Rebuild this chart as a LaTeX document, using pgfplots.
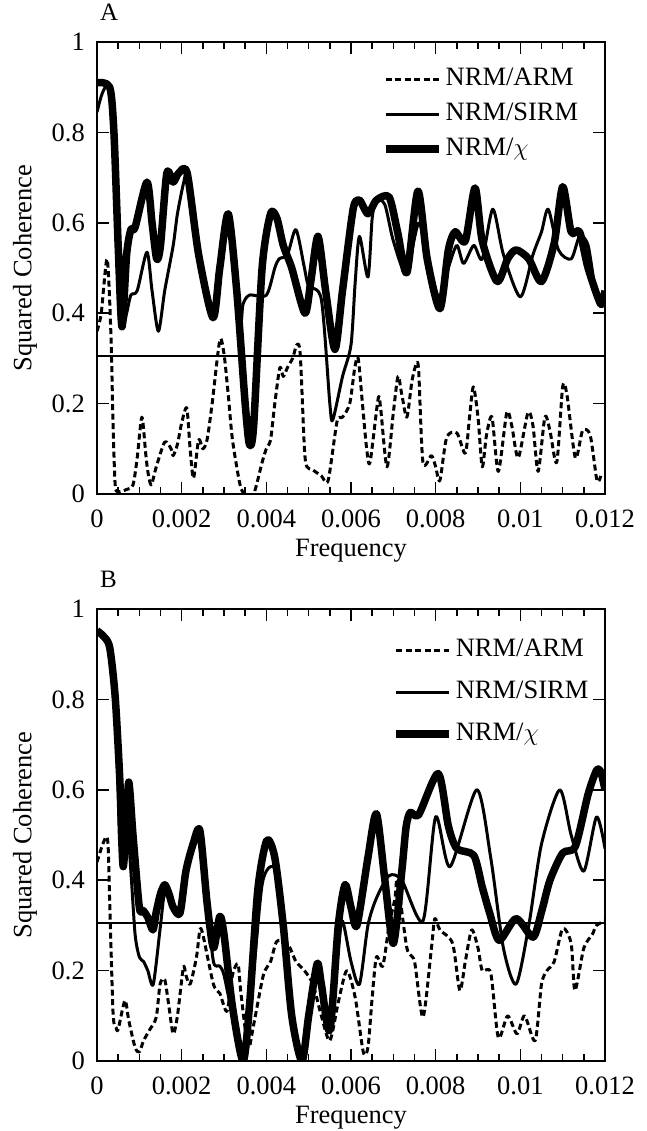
\documentclass[border=0pt]{standalone}
\usepackage{fontspec}
\setmainfont{Liberation Serif}
\usepackage{pgfplots}
\pgfplotsset{compat=1.18}
\newcommand{\bigf}{\fontsize{26.5bp}{30bp}\selectfont}
\pgfplotsset{
  coh/.style={
    scale only axis, width=508bp, height=452bp,
    xmin=0, xmax=0.012, ymin=0, ymax=1,
    scaled x ticks=false, scaled y ticks=false,
    xtick={0,0.002,0.004,0.006,0.008,0.01,0.012},
    xticklabels={0,0.002,0.004,0.006,0.008,0.01,0.012},
    minor x tick num=3,
    ytick={0,0.2,0.4,0.6,0.8,1},
    yticklabels={0,0.2,0.4,0.6,0.8,1},
    tick align=inside, major tick length=12bp, minor tick length=7bp,
    every tick/.style={black, line width=1.5bp},
    axis line style={line width=2.2bp},
    tick label style={font=\bigf, inner sep=0pt},
    xticklabel style={anchor=north, yshift=-16bp},
    yticklabel style={anchor=east, xshift=-12bp},
    label style={font=\bigf},
    xlabel={Frequency},
    ylabel={Squared Coherence},
    xlabel style={at={(axis description cs:0.5,0)}, anchor=base, yshift=-63bp, inner sep=0pt},
    ylabel style={at={(axis description cs:-0.1417,0.5)}, anchor=center, inner sep=0pt},
    title style={font=\fontsize{25bp}{28bp}\selectfont, at={(axis description cs:0,1)}, anchor=base west, xshift=3bp, yshift=16bp, inner sep=0pt},
    legend cell align=left,
    legend image code/.code={\draw[#1] (0bp,0bp) -- (53bp,0bp);},
    every axis plot/.append style={line join=round, line cap=butt},
    arm/.style={black, line width=3bp, dash pattern=on 6bp off 3.5bp, smooth, tension=0.45},
    sirm/.style={black, line width=3bp, smooth, tension=0.45},
    chi/.style={black, line width=7.5bp, smooth, tension=0.45},
    thr/.style={black, line width=2.2bp},
  }
}
\begin{document}
\begin{tikzpicture}[font=\bigf]
\path[use as bounding box] (-97bp,0bp) rectangle (550bp,1131bp);
% ---------------- Panel A ----------------
\begin{axis}[coh, at={(0bp,637bp)}, anchor=south west, title={A},
  legend style={at={(axis description cs:0.561,0.9447)}, anchor=north west, draw=none, fill=none,
    inner sep=0pt, row sep=11bp, column sep=3bp, font=\bigf,
    nodes={inner sep=0pt, text height=18bp, text depth=6bp}}]
\addplot[arm] coordinates {
(0,0.36) (0.0001,0.40) (0.00024,0.52) (0.00033,0.35) (0.00038,0.15) (0.00043,0.02)
(0.0005,0.005) (0.0007,0.01) (0.00085,0.02) (0.00095,0.08) (0.00106,0.17) (0.00115,0.09)
(0.0012,0.05) (0.00128,0.02) (0.0014,0.06) (0.0016,0.115) (0.00175,0.10) (0.0018,0.085)
(0.0019,0.11) (0.002,0.157) (0.00212,0.19) (0.0022,0.10) (0.00228,0.035) (0.0024,0.12)
(0.0025,0.10) (0.0026,0.12) (0.00272,0.20) (0.0029,0.34) (0.003,0.31) (0.0031,0.22)
(0.0032,0.12) (0.00338,0.02) (0.0035,0.0) (0.0037,0.0) (0.0039,0.07) (0.0040,0.10)
(0.0041,0.12) (0.0042,0.20) (0.00432,0.28) (0.0044,0.26) (0.0045,0.28) (0.00462,0.30)
(0.00472,0.33) (0.0048,0.31) (0.0049,0.10) (0.00496,0.06) (0.0051,0.053) (0.0053,0.04)
(0.00546,0.03) (0.00567,0.16) (0.0058,0.17) (0.00597,0.20) (0.00609,0.28) (0.00617,0.30)
(0.00627,0.20) (0.00637,0.10) (0.00645,0.07) (0.00664,0.21) (0.0067,0.19) (0.00685,0.06)
(0.007,0.18) (0.00711,0.26) (0.0072,0.22) (0.00732,0.17) (0.00744,0.25) (0.00755,0.29)
(0.0076,0.27) (0.0077,0.07) (0.0079,0.085) (0.008,0.06) (0.0081,0.03) (0.00826,0.125)
(0.0085,0.135) (0.0087,0.09) (0.0088,0.17) (0.00889,0.237) (0.009,0.17) (0.0091,0.06)
(0.0092,0.13) (0.00933,0.17) (0.00948,0.05) (0.00968,0.18) (0.0098,0.15) (0.00995,0.08)
(0.01018,0.18) (0.0103,0.15) (0.01042,0.05) (0.01058,0.17) (0.0107,0.14) (0.01086,0.07)
(0.011,0.237) (0.0111,0.22) (0.0113,0.08) (0.01147,0.14) (0.01165,0.13) (0.01181,0.03)
(0.0119,0.04)};
\addlegendentry{NRM/ARM}
\addplot[sirm] coordinates {
(0,0.845) (0.0001,0.88) (0.0002,0.90) (0.0003,0.89) (0.0004,0.78) (0.0005,0.50)
(0.0006,0.37) (0.0007,0.40) (0.0008,0.44) (0.00095,0.45) (0.00118,0.535) (0.0013,0.45)
(0.00145,0.36) (0.0016,0.45) (0.0018,0.55) (0.0019,0.62) (0.00205,0.69) (0.00213,0.70)
(0.0024,0.53) (0.00274,0.39) (0.0029,0.50) (0.0031,0.62) (0.0033,0.45) (0.0034,0.38)
(0.00345,0.42) (0.0036,0.44) (0.004,0.44) (0.0042,0.50) (0.0043,0.52) (0.0045,0.53)
(0.0047,0.585) (0.0049,0.50) (0.005,0.46) (0.0053,0.43) (0.0055,0.20) (0.00557,0.164)
(0.0058,0.26) (0.006,0.33) (0.0061,0.47) (0.0062,0.57) (0.0064,0.48) (0.0065,0.61)
(0.0066,0.65) (0.0068,0.64) (0.0070,0.56) (0.0073,0.49) (0.0076,0.60) (0.0078,0.52)
(0.0081,0.43) (0.0083,0.50) (0.0085,0.55) (0.00866,0.51) (0.0089,0.55) (0.0091,0.52)
(0.00935,0.63) (0.0096,0.53) (0.0100,0.436) (0.0103,0.53) (0.0105,0.58) (0.01066,0.63)
(0.0109,0.54) (0.0112,0.52) (0.0114,0.57) (0.0116,0.55) (0.0118,0.44) (0.012,0.43)};
\addlegendentry{NRM/SIRM}
\addplot[chi] coordinates {
(0,0.91) (0.0003,0.90) (0.0004,0.80) (0.0005,0.55) (0.00059,0.37) (0.0007,0.53)
(0.0008,0.585) (0.0009,0.59) (0.00118,0.69) (0.0013,0.60) (0.00141,0.52) (0.0015,0.55)
(0.00165,0.71) (0.0018,0.69) (0.00193,0.71) (0.00213,0.71) (0.0024,0.53) (0.00274,0.39)
(0.0029,0.50) (0.0031,0.62) (0.0033,0.45) (0.0035,0.20) (0.0036,0.11) (0.0037,0.15)
(0.0039,0.50) (0.0041,0.62) (0.00425,0.61) (0.0044,0.55) (0.0046,0.50) (0.00491,0.40)
(0.00505,0.47) (0.00522,0.57) (0.0054,0.45) (0.00562,0.32) (0.0058,0.45) (0.00605,0.63)
(0.0062,0.65) (0.0064,0.62) (0.0066,0.65) (0.0069,0.657) (0.0071,0.58) (0.00732,0.49)
(0.00758,0.67) (0.0078,0.52) (0.0081,0.41) (0.0083,0.54) (0.00846,0.58) (0.0087,0.56)
(0.00893,0.677) (0.0091,0.56) (0.00945,0.47) (0.0097,0.52) (0.0099,0.54) (0.0102,0.52)
(0.0105,0.47) (0.0108,0.555) (0.011,0.68) (0.0112,0.58) (0.0114,0.58) (0.0116,0.50)
(0.0119,0.42) (0.012,0.45)};
\addlegendentry{NRM/$\chi$}
\addplot[thr, forget plot] coordinates {(0,0.305) (0.012,0.305)};
\end{axis}
% ---------------- Panel B ----------------
\begin{axis}[coh, at={(0bp,70bp)}, anchor=south west, title={B},
  xlabel style={yshift=1bp},
  legend style={at={(axis description cs:0.581,0.936)}, anchor=north west, draw=none, fill=none,
    inner sep=0pt, row sep=18bp, column sep=3bp, font=\bigf,
    nodes={inner sep=0pt, text height=18bp, text depth=6bp}}]
\addplot[arm] coordinates {
(0,0.44) (0.00024,0.495) (0.0003,0.35) (0.00038,0.105) (0.00045,0.074) (0.0005,0.07)
(0.00066,0.134) (0.00075,0.09) (0.0009,0.03) (0.001,0.02) (0.0011,0.045) (0.00125,0.07)
(0.0014,0.097) (0.00149,0.17) (0.0016,0.18) (0.0017,0.12) (0.0018,0.06) (0.0019,0.10)
(0.00204,0.207) (0.0021,0.19) (0.0022,0.17) (0.00235,0.23) (0.00243,0.29) (0.0025,0.28)
(0.00275,0.17) (0.0029,0.15) (0.00307,0.11) (0.0032,0.19) (0.00333,0.215) (0.0034,0.15)
(0.00357,0.03) (0.0037,0.08) (0.00393,0.19) (0.0041,0.22) (0.00425,0.265) (0.0045,0.26)
(0.0047,0.22) (0.0049,0.20) (0.0051,0.17) (0.0053,0.10) (0.0055,0.045) (0.0057,0.13)
(0.0059,0.20) (0.0061,0.14) (0.00629,0.02) (0.0064,0.03) (0.0065,0.14) (0.0066,0.23)
(0.00675,0.21) (0.0069,0.30) (0.00704,0.36) (0.0071,0.40) (0.00732,0.25) (0.0075,0.22)
(0.0077,0.097) (0.0079,0.25) (0.00798,0.315) (0.0081,0.29) (0.0084,0.26) (0.00857,0.156)
(0.0087,0.22) (0.00885,0.29) (0.009,0.25) (0.0091,0.20) (0.0093,0.195) (0.00948,0.052)
(0.0097,0.10) (0.00992,0.06) (0.0101,0.10) (0.01035,0.045) (0.0105,0.17) (0.01063,0.20)
(0.0108,0.22) (0.011,0.293) (0.0112,0.26) (0.01129,0.156) (0.0115,0.25) (0.0117,0.28)
(0.0118,0.30) (0.012,0.31)};
\addlegendentry{NRM/ARM}
\addplot[sirm] coordinates {
(0,0.95) (0.0003,0.915) (0.00043,0.80) (0.0005,0.60) (0.00054,0.52) (0.00069,0.55)
(0.0008,0.42) (0.0009,0.28) (0.001,0.23) (0.0011,0.22) (0.0012,0.20) (0.00133,0.17)
(0.0015,0.30) (0.0016,0.37) (0.0018,0.34) (0.00196,0.33) (0.0021,0.42) (0.00227,0.47)
(0.00243,0.50) (0.0026,0.35) (0.00275,0.22) (0.0029,0.21) (0.003,0.19) (0.0032,0.10)
(0.00345,0.0) (0.0037,0.20) (0.0039,0.39) (0.0041,0.43) (0.0043,0.40) (0.0045,0.18)
(0.00484,0.0) (0.0050,0.12) (0.0052,0.20) (0.0055,0.08) (0.0057,0.25) (0.0058,0.31)
(0.006,0.22) (0.0062,0.17) (0.0064,0.30) (0.0066,0.36) (0.0069,0.41) (0.0072,0.40)
(0.0077,0.31) (0.0080,0.54) (0.00834,0.43) (0.00897,0.60) (0.0093,0.45) (0.0096,0.25)
(0.0099,0.17) (0.0102,0.30) (0.0105,0.48) (0.01093,0.60) (0.0112,0.50) (0.0115,0.42)
(0.0118,0.54) (0.012,0.47)};
\addlegendentry{NRM/SIRM}
\addplot[chi] coordinates {
(0,0.952) (0.00015,0.94) (0.0003,0.915) (0.00043,0.805) (0.00054,0.62) (0.00058,0.50)
(0.00062,0.43) (0.00068,0.50) (0.00075,0.617) (0.00085,0.50) (0.001,0.34) (0.00109,0.333)
(0.0012,0.318) (0.00132,0.29) (0.0014,0.33) (0.0015,0.37) (0.0016,0.39) (0.0017,0.37)
(0.0018,0.34) (0.00196,0.327) (0.0021,0.42) (0.00227,0.48) (0.00243,0.51) (0.0026,0.35)
(0.00275,0.25) (0.0029,0.32) (0.003,0.28) (0.0032,0.12) (0.00345,0.0) (0.0036,0.12)
(0.0038,0.38) (0.00401,0.488) (0.0042,0.45) (0.0044,0.30) (0.0046,0.10) (0.00484,0.0)
(0.005,0.10) (0.0052,0.215) (0.0053,0.17) (0.0055,0.068) (0.0057,0.30) (0.00586,0.39)
(0.006,0.34) (0.00614,0.30) (0.0064,0.45) (0.0066,0.547) (0.0068,0.40) (0.007,0.26)
(0.0072,0.42) (0.0073,0.517) (0.0074,0.55) (0.0076,0.545) (0.00806,0.636) (0.0083,0.52)
(0.0085,0.47) (0.0089,0.455) (0.0091,0.385) (0.00928,0.326) (0.0095,0.267) (0.0099,0.315)
(0.0103,0.274) (0.0105,0.33) (0.0107,0.40) (0.011,0.46) (0.0113,0.475) (0.0116,0.59)
(0.0118,0.643) (0.0119,0.64) (0.012,0.60)};
\addlegendentry{NRM/$\chi$}
\addplot[thr, forget plot] coordinates {(0,0.305) (0.012,0.305)};
\end{axis}
\end{tikzpicture}
\end{document}
